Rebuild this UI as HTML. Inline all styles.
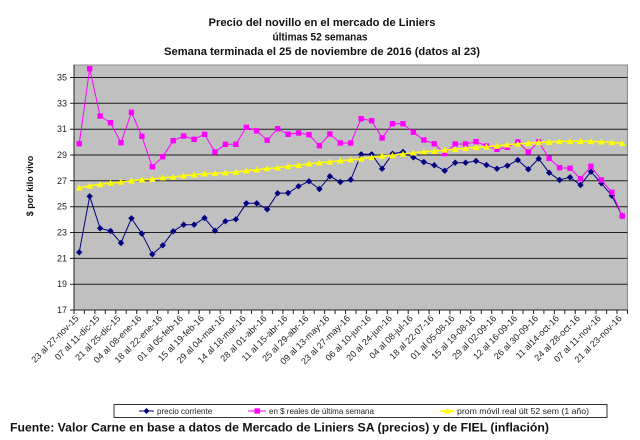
<!DOCTYPE html>
<html><head><meta charset="utf-8"><style>
html,body{margin:0;padding:0;background:#fff;}
svg{display:block;font-family:"Liberation Sans",Arial,sans-serif;}
</style></head><body>
<svg width="640" height="440" viewBox="0 0 640 440" xmlns="http://www.w3.org/2000/svg">
<defs>
<marker id="md" markerUnits="userSpaceOnUse" markerWidth="8" markerHeight="8" refX="4" refY="4"><path d="M4,0.8 L7.2,4 L4,7.2 L0.8,4 Z" fill="#000080"/></marker>
<marker id="ms" markerUnits="userSpaceOnUse" markerWidth="8" markerHeight="8" refX="4" refY="4"><rect x="1.3" y="1.3" width="5.4" height="5.4" fill="#ff00ff"/></marker>
<marker id="mt" markerUnits="userSpaceOnUse" markerWidth="8" markerHeight="8" refX="4" refY="4"><path d="M4,0.8 L7.4,6.8 L0.6,6.8 Z" fill="#ffff00"/></marker>
</defs>
<g font-weight="bold" font-size="11" fill="#111" text-anchor="middle">
<text x="322" y="26" textLength="227" lengthAdjust="spacingAndGlyphs">Precio del novillo en el mercado de Liniers</text>
<text x="320" y="40.5" textLength="95" lengthAdjust="spacingAndGlyphs">últimas 52 semanas</text>
<text x="322" y="55" textLength="316" lengthAdjust="spacingAndGlyphs">Semana terminada el 25 de noviembre de 2016 (datos al 23)</text>
</g>
<rect x="74" y="65" width="553.5" height="245" fill="#c0c0c0" stroke="#8a8a8a" stroke-width="1"/>
<g stroke="#1e1e1e" stroke-width="1">
<line x1="74" y1="77.5" x2="627.5" y2="77.5"/>
<line x1="74" y1="103.3" x2="627.5" y2="103.3"/>
<line x1="74" y1="129.2" x2="627.5" y2="129.2"/>
<line x1="74" y1="155" x2="627.5" y2="155"/>
<line x1="74" y1="180.8" x2="627.5" y2="180.8"/>
<line x1="74" y1="206.7" x2="627.5" y2="206.7"/>
<line x1="74" y1="232.5" x2="627.5" y2="232.5"/>
<line x1="74" y1="258.4" x2="627.5" y2="258.4"/>
<line x1="74" y1="284.2" x2="627.5" y2="284.2"/>
</g>
<g stroke="#222" stroke-width="1">
<line x1="74" y1="65" x2="74" y2="310"/>
<line x1="74" y1="310" x2="627.5" y2="310"/>
<path d="M70,77.5H74M70,103.3H74M70,129.2H74M70,155H74M70,180.8H74M70,206.7H74M70,232.5H74M70,258.4H74M70,284.2H74M70,310H74"/>
<path d="M74.0,310v4M84.4,310v4M94.9,310v4M105.3,310v4M115.8,310v4M126.2,310v4M136.7,310v4M147.1,310v4M157.5,310v4M168.0,310v4M178.4,310v4M188.9,310v4M199.3,310v4M209.8,310v4M220.2,310v4M230.6,310v4M241.1,310v4M251.5,310v4M262.0,310v4M272.4,310v4M282.9,310v4M293.3,310v4M303.7,310v4M314.2,310v4M324.6,310v4M335.1,310v4M345.5,310v4M356.0,310v4M366.4,310v4M376.8,310v4M387.3,310v4M397.7,310v4M408.2,310v4M418.6,310v4M429.1,310v4M439.5,310v4M449.9,310v4M460.4,310v4M470.8,310v4M481.3,310v4M491.7,310v4M502.2,310v4M512.6,310v4M523.0,310v4M533.5,310v4M543.9,310v4M554.4,310v4M564.8,310v4M575.3,310v4M585.7,310v4M596.1,310v4M606.6,310v4M617.0,310v4M627.5,310v4"/>
</g>
<g font-size="9" fill="#222" text-anchor="end">
<text x="67" y="80.5">35</text>
<text x="67" y="106.3">33</text>
<text x="67" y="132.2">31</text>
<text x="67" y="158">29</text>
<text x="67" y="183.8">27</text>
<text x="67" y="209.7">25</text>
<text x="67" y="235.5">23</text>
<text x="67" y="261.4">21</text>
<text x="67" y="287.2">19</text>
<text x="67" y="313">17</text>
</g>
<text transform="translate(33,186) rotate(-90)" text-anchor="middle" font-size="9" font-weight="bold" fill="#111">$ por kilo vivo</text>
<g font-size="9" fill="#222" text-anchor="end">
<text x="79.2" y="319" transform="rotate(-45 79.2 319)">23 al 27-nov-15</text>
<text x="100.1" y="319" transform="rotate(-45 100.1 319)">07 al 11-dic-15</text>
<text x="121.0" y="319" transform="rotate(-45 121.0 319)">21 al 25-dic-15</text>
<text x="141.9" y="319" transform="rotate(-45 141.9 319)">04 al 08-ene-16</text>
<text x="162.8" y="319" transform="rotate(-45 162.8 319)">18 al 22-ene-16</text>
<text x="183.7" y="319" transform="rotate(-45 183.7 319)">01 al 05-feb-16</text>
<text x="204.5" y="319" transform="rotate(-45 204.5 319)">15 al 19-feb-16</text>
<text x="225.4" y="319" transform="rotate(-45 225.4 319)">29 al 04-mar-16</text>
<text x="246.3" y="319" transform="rotate(-45 246.3 319)">14 al 18-mar-16</text>
<text x="267.2" y="319" transform="rotate(-45 267.2 319)">28 al 01-abr-16</text>
<text x="288.1" y="319" transform="rotate(-45 288.1 319)">11 al 15-abr-16</text>
<text x="309.0" y="319" transform="rotate(-45 309.0 319)">25 al 29-abr-16</text>
<text x="329.9" y="319" transform="rotate(-45 329.9 319)">09 al 13-may-16</text>
<text x="350.7" y="319" transform="rotate(-45 350.7 319)">23 al 27-may-16</text>
<text x="371.6" y="319" transform="rotate(-45 371.6 319)">06 al 10-jun-16</text>
<text x="392.5" y="319" transform="rotate(-45 392.5 319)">20 al 24-jun-16</text>
<text x="413.4" y="319" transform="rotate(-45 413.4 319)">04 al 08-jul-16</text>
<text x="434.3" y="319" transform="rotate(-45 434.3 319)">18 al 22-07-16</text>
<text x="455.2" y="319" transform="rotate(-45 455.2 319)">01 al 05-08-16</text>
<text x="476.1" y="319" transform="rotate(-45 476.1 319)">15 al 19-08-16</text>
<text x="496.9" y="319" transform="rotate(-45 496.9 319)">29 al 02-09-16</text>
<text x="517.8" y="319" transform="rotate(-45 517.8 319)">12 al 16-09-16</text>
<text x="538.7" y="319" transform="rotate(-45 538.7 319)">26 al 30-09-16</text>
<text x="559.6" y="319" transform="rotate(-45 559.6 319)">11 al14-oct-16</text>
<text x="580.5" y="319" transform="rotate(-45 580.5 319)">24 al 28-oct-16</text>
<text x="601.4" y="319" transform="rotate(-45 601.4 319)">07 al 11-nov-16</text>
<text x="622.3" y="319" transform="rotate(-45 622.3 319)">21 al 23-nov-16</text>
</g>
<polyline fill="none" stroke="#000080" stroke-width="1" marker-start="url(#md)" marker-mid="url(#md)" marker-end="url(#md)" points="79.22,252.3 89.66,196.3 100.11,228.3 110.55,231 120.99,243 131.44,218.3 141.88,233.7 152.32,254.3 162.76,245.3 173.21,231.3 183.65,224.7 194.09,224.7 204.54,218 214.98,230.7 225.42,221.3 235.86,219.3 246.31,203.3 256.75,203.3 267.19,209.3 277.64,193.3 288.08,193 298.52,186.3 308.97,181.3 319.41,189 329.85,176.3 340.30,182 350.74,179.7 361.18,154.3 371.62,154.3 382.07,168.7 392.51,153.7 402.95,152 413.40,157.3 423.84,162 434.28,165.2 444.73,170.7 455.17,162.7 465.61,162.7 476.05,161 486.50,165 496.94,168.7 507.38,165.7 517.83,160 528.27,169.3 538.71,158.7 549.16,172.7 559.60,180 570.04,177.3 580.49,185 590.93,171.7 601.37,183.3 611.81,195.7 622.26,216"/>
<polyline fill="none" stroke="#ff00ff" stroke-width="1" marker-start="url(#ms)" marker-mid="url(#ms)" marker-end="url(#ms)" points="79.22,143.7 89.66,68.7 100.11,116 110.55,122.7 120.99,142.7 131.44,112.3 141.88,136.3 152.32,166.7 162.76,156.7 173.21,140.7 183.65,136 194.09,139.3 204.54,134.3 214.98,152 225.42,144.3 235.86,144.3 246.31,127.3 256.75,130.8 267.19,140.2 277.64,128.7 288.08,134.3 298.52,133 308.97,134.7 319.41,145.7 329.85,134 340.30,143 350.74,143 361.18,118.7 371.62,120.7 382.07,138 392.51,123.7 402.95,123.7 413.40,132.3 423.84,140 434.28,143.8 444.73,153.5 455.17,144 465.61,144 476.05,141.7 486.50,146 496.94,149.3 507.38,147.3 517.83,142 528.27,152 538.71,142 549.16,158.3 559.60,167.7 570.04,168.3 580.49,178.7 590.93,166.3 601.37,180 611.81,192.3 622.26,216"/>
<polyline fill="none" stroke="#ffff00" stroke-width="1.5" marker-start="url(#mt)" marker-mid="url(#mt)" marker-end="url(#mt)" points="79.22,187.7 89.66,185.7 100.11,184.3 110.55,183 120.99,182 131.44,180.7 141.88,179.7 152.32,179 162.76,177.7 173.21,177 183.65,175.7 194.09,174.7 204.54,173.7 214.98,173.3 225.42,172.7 235.86,172 246.31,170.7 256.75,169.7 267.19,168.5 277.64,167.7 288.08,166.3 298.52,165.3 308.97,163.7 319.41,162.7 329.85,161.7 340.30,160.7 350.74,159.7 361.18,158.7 371.62,157.3 382.07,156 392.51,155.3 402.95,154 413.40,152.7 423.84,151.7 434.28,151.3 444.73,150 455.17,149.3 465.61,148.3 476.05,147.3 486.50,146.7 496.94,146 507.38,144.7 517.83,144 528.27,143.3 538.71,142.3 549.16,142 559.60,141.3 570.04,141.3 580.49,141.3 590.93,141.3 601.37,141.7 611.81,142.3 622.26,143.3"/>
<rect x="114" y="404.5" width="493" height="13" fill="#fff" stroke="#333" stroke-width="1"/>
<line x1="139" y1="411" x2="154" y2="411" stroke="#000080" stroke-width="1"/>
<path d="M146.5,408 L149.5,411 L146.5,414 L143.5,411 Z" fill="#000080"/>
<line x1="248" y1="411" x2="266" y2="411" stroke="#ff00ff" stroke-width="1"/>
<rect x="254.5" y="408.3" width="5.4" height="5.4" fill="#ff00ff"/>
<line x1="440" y1="411" x2="455" y2="411" stroke="#ffff00" stroke-width="1.5"/>
<path d="M447.5,407.8 L450.8,413.6 L444.2,413.6 Z" fill="#ffff00"/>
<g font-size="8" fill="#222">
<text x="157" y="414">precio corriente</text>
<text x="269" y="414">en $ reales de última semana</text>
<text x="457" y="414" textLength="132" lengthAdjust="spacingAndGlyphs">prom móvil real últ 52 sem (1 año)</text>
</g>
<text x="10" y="431.5" font-size="12" font-weight="bold" fill="#111" textLength="539" lengthAdjust="spacingAndGlyphs">Fuente: Valor Carne en base a datos de Mercado de Liniers SA (precios) y de FIEL (inflación)</text>
</svg>
</body></html>
